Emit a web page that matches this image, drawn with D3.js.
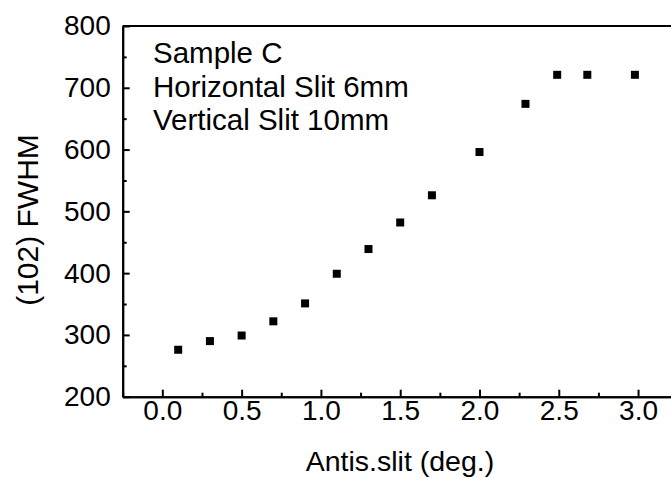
<!DOCTYPE html>
<html>
<head>
<meta charset="utf-8">
<script src="https://cdn.jsdelivr.net/npm/d3@7"></script>
<style>
    body { margin: 0; background: #fff; }
    svg { display: block; font-family: "Liberation Sans", Arial, sans-serif; }
    .axis path, .axis line { stroke: #000; stroke-width: 2px; }
    .axis text { font-size: 28px; fill: #000; font-family: "Liberation Sans", Arial, sans-serif; }
</style>
</head>
<body>
<div id="container"><svg></svg></div>
<script>
// data
var slitAngle = [0.1, 0.3, 0.5, 0.7, 0.9, 1.1, 1.3, 1.5, 1.7, 2.0, 2.29, 2.49, 2.68, 2.98];
var fwhm = [276, 290, 299, 322, 351, 399, 439, 482, 526, 596, 674, 721, 721, 721];
var xTicks = [0.0, 0.5, 1.0, 1.5, 2.0, 2.5, 3.0];
var xMinorTicks = [-0.25, 0.25, 0.75, 1.25, 1.75, 2.25, 2.75, 3.25];
var yTicks = [200, 300, 400, 500, 600, 700, 800];
var yMinorTicks = [250, 350, 450, 550, 650, 750];
var notes = ['Sample C', 'Horizontal Slit 6mm', 'Vertical Slit 10mm'];

var W = 671, H = 478;
var margin = {left: 122.7, top: 26, bottom: 81.3};

function main() {
    var svg = d3.select('#container svg')
        .attr('width', W)
        .attr('height', H);

    var x = d3.scaleLinear().domain([-0.25, 3.25]).range([margin.left, margin.left + 555]);
    var y = d3.scaleLinear().domain([200, 800]).range([H - margin.bottom, margin.top]);

    // top frame line
    svg.append('line')
        .attr('x1', x(-0.25)).attr('x2', x(3.25))
        .attr('y1', y(800)).attr('y2', y(800))
        .attr('stroke', '#000').attr('stroke-width', 2);

    // x axis, ticks pointing inward
    svg.append('g')
        .attr('class', 'axis')
        .attr('transform', 'translate(0,' + y(200) + ')')
        .call(d3.axisBottom(x).tickValues(xMinorTicks).tickSizeInner(-4).tickSizeOuter(0).tickFormat(''));
    svg.append('g')
        .attr('class', 'axis')
        .attr('transform', 'translate(0,' + y(200) + ')')
        .call(d3.axisBottom(x).tickValues(xTicks).tickSizeInner(-7).tickSizeOuter(0).tickPadding(3).tickFormat(d3.format('.1f')));

    // y axis
    svg.append('g')
        .attr('class', 'axis')
        .attr('transform', 'translate(' + x(-0.25) + ',0)')
        .call(d3.axisLeft(y).tickValues(yMinorTicks).tickSizeInner(-4).tickSizeOuter(0).tickFormat(''));
    svg.append('g')
        .attr('class', 'axis')
        .attr('transform', 'translate(' + x(-0.25) + ',0)')
        .call(d3.axisLeft(y).tickValues(yTicks).tickSizeInner(-7).tickSizeOuter(0).tickPadding(12));

    // points
    var s = 8;
    svg.append('g').selectAll('rect')
        .data(slitAngle)
        .enter().append('rect')
        .attr('x', function(d) { return x(d) - s / 2; })
        .attr('y', function(d, i) { return y(fwhm[i]) - s / 2; })
        .attr('width', s)
        .attr('height', s)
        .attr('fill', '#000');

    // annotation
    svg.append('g').selectAll('text')
        .data(notes)
        .enter().append('text')
        .attr('x', 153)
        .attr('y', function(d, i) { return 63 + i * 33.5; })
        .attr('font-size', 29.5)
        .text(function(d) { return d; });

    // axis titles
    svg.append('text')
        .attr('x', 400)
        .attr('y', 471)
        .attr('text-anchor', 'middle')
        .attr('font-size', 28.5)
        .text('Antis.slit (deg.)');

    svg.append('text')
        .attr('transform', 'translate(38,220) rotate(-90)')
        .attr('text-anchor', 'middle')
        .attr('font-size', 30)
        .text('(102) FWHM');
}

main();
</script>
</body>
</html>
